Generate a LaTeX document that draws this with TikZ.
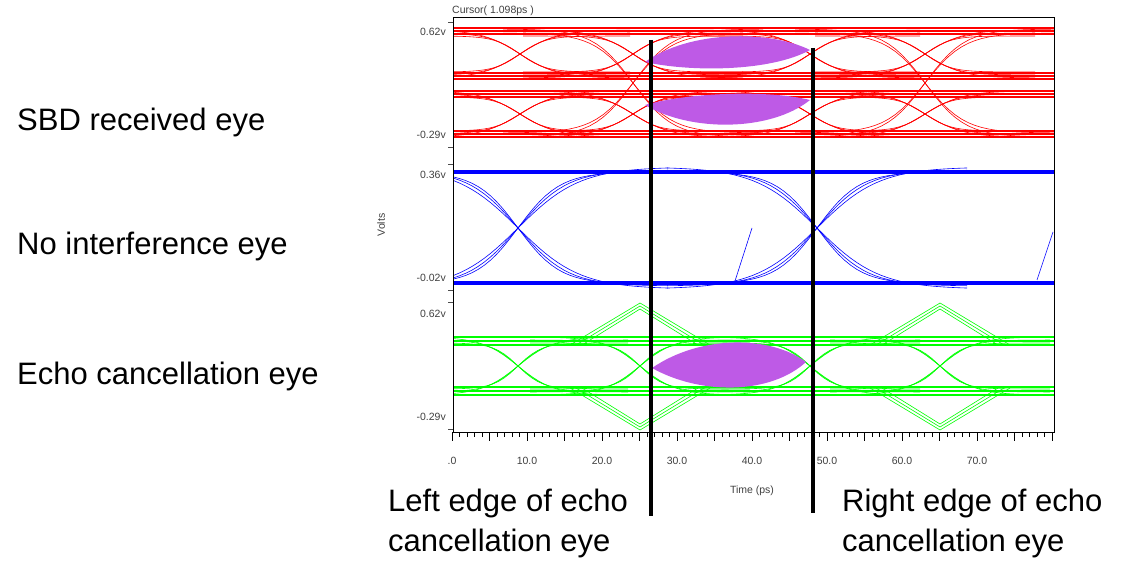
\documentclass[tikz,border=0pt]{standalone}
\usepackage{fontspec}
\setmainfont{Liberation Sans}
\begin{document}
\begin{tikzpicture}[x=1pt,y=-1pt,
  big/.style={font=\fontsize{31}{33}\selectfont,anchor=base west,inner sep=0},
  small/.style={font=\fontsize{10.5}{11}\selectfont,text=black!75,inner sep=1pt},
  tr/.style={line width=0.6pt},
  band/.style={line width=1.6pt},
  lens/.style={fill={rgb,255:red,190;green,90;blue,230},draw=none},
  edge/.style={line width=3.2pt,black}]
\useasboundingbox (0,0) rectangle (1134,580);
\def\tr#1#2#3#4#5{% color, center, mid, amp, s
  \foreach \o in {-3,0,3}{
    \draw[#1,tr] plot[domain=#2-110:#2+110,samples=40] (\x,{#3-(#4+\o)*tanh((\x-#2)/(#5+2*\o))});
    \draw[#1,tr] plot[domain=#2-110:#2+110,samples=40] (\x,{#3+(#4+\o)*tanh((\x-#2)/(#5+2*\o))});}}
% ---------- red panel
\begin{scope}
\clip (453,18) rectangle (1054,155);
\foreach \y in {28,31,34,73,76,79,91,94,97,131,134,137}{\draw[red,band] (453,\y)--(1054,\y);}
\foreach \c in {520,633,810,925}{\tr{red}{\c}{54}{21}{32}\tr{red}{\c}{114}{20}{32}}
\foreach \c in {633,925}{\foreach \o in {0,4}{
  \draw[red,tr] plot[domain=\c-130:\c+130,samples=40] (\x,{83-(50+\o)*tanh((\x-\c)/40)});
  \draw[red,tr] plot[domain=\c-130:\c+130,samples=40] (\x,{83+(50+\o)*tanh((\x-\c)/40)});}}
\fill[lens] (645,62) .. controls (690,30) and (770,30) .. (810,50) .. controls (770,72) and (690,72) .. (645,62);
\fill[lens] (645,105) .. controls (690,92) and (770,90) .. (810,100) .. controls (770,132) and (690,132) .. (645,105);
\end{scope}
% ---------- blue panel
\begin{scope}
\clip (453,158) rectangle (1054,295);
\foreach \c in {518,817}{\foreach \o in {0,2,5}{
  \draw[blue,tr] plot[domain=\c-150:\c+150,samples=50] (\x,{228-(56+\o)*tanh((\x-\c)/(42+4*\o))});
  \draw[blue,tr] plot[domain=\c-150:\c+150,samples=50] (\x,{228+(56+\o)*tanh((\x-\c)/(42+4*\o))});}}
\foreach \y in {171,173,282,284}{\draw[blue,band] (453,\y)--(1054,\y);}
\draw[blue,tr] (735,281)--(752,228);
\draw[blue,tr] (1037,280)--(1053,232);
\end{scope}
% ---------- green panel
\begin{scope}
\clip (453,298) rectangle (1054,432);
\foreach \y in {337,341,345,387,391,395}{\draw[green,band] (453,\y)--(1054,\y);}
\foreach \c in {518,640,810,940}{\tr{green}{\c}{366}{26}{30}}
\foreach \c in {640,940}{\foreach \o in {0,6,12}{
  \draw[green,tr] (\c-70+\o,345)--(\c,303+\o/2)--(\c+70-\o,345);
  \draw[green,tr] (\c-70+\o,388)--(\c,430-\o/2)--(\c+70-\o,388);}}
\fill[lens] (652,368) .. controls (700,335) and (770,335) .. (806,362) .. controls (770,395) and (700,395) .. (652,368);
\end{scope}
% ---------- frame and axes
\draw[black,line width=0.8pt] (453,17) rectangle (1054,432);
\foreach \y in {22,147,164,290,302,429}{\draw[black!70] (448,\y)--(453,\y);}
\foreach \i in {0,...,80}{\draw[black] (452+7.5*\i,432)--++(0,5);}
\foreach \i in {0,5,...,80}{\draw[black] (452+7.5*\i,432)--++(0,9);}
\foreach \i/\t in {0/.0,10/10.0,20/20.0,30/30.0,40/40.0,50/50.0,60/60.0,70/70.0}{
  \node[small] (t\i) at (452+7.5*\i,461) {\t};}
\node[small,anchor=east] (a1) at (447,32) {0.62v};
\node[small,anchor=east] (a2) at (447,135) {-0.29v};
\node[small,anchor=east] (a3) at (447,175) {0.36v};
\node[small,anchor=east] (a4) at (447,278) {-0.02v};
\node[small,anchor=east] (a5) at (447,314) {0.62v};
\node[small,anchor=east] (a6) at (447,417) {-0.29v};
\node[small,rotate=90] (volts) at (381,225) {Volts};
\node[small] (time) at (752,491) {Time (ps)};
\node[small,anchor=south west,inner sep=0] (cur) at (452,16) {Cursor( 1.098ps )};
% ---------- edge markers
\draw[edge] (651,40)--(651,516);
\draw[edge] (813,48)--(813,513);
% ---------- labels
\node[big] (l1) at (17,131) {SBD received eye};
\node[big] (l2) at (17,254) {No interference eye};
\node[big] (l3) at (17,384) {Echo cancellation eye};
\node[big] (l4) at (388,511) {Left edge of echo};
\node[big] (l5) at (388,551) {cancellation eye};
\node[big] (l6) at (842,511) {Right edge of echo};
\node[big] (l7) at (842,551) {cancellation eye};
\end{tikzpicture}
\end{document}
